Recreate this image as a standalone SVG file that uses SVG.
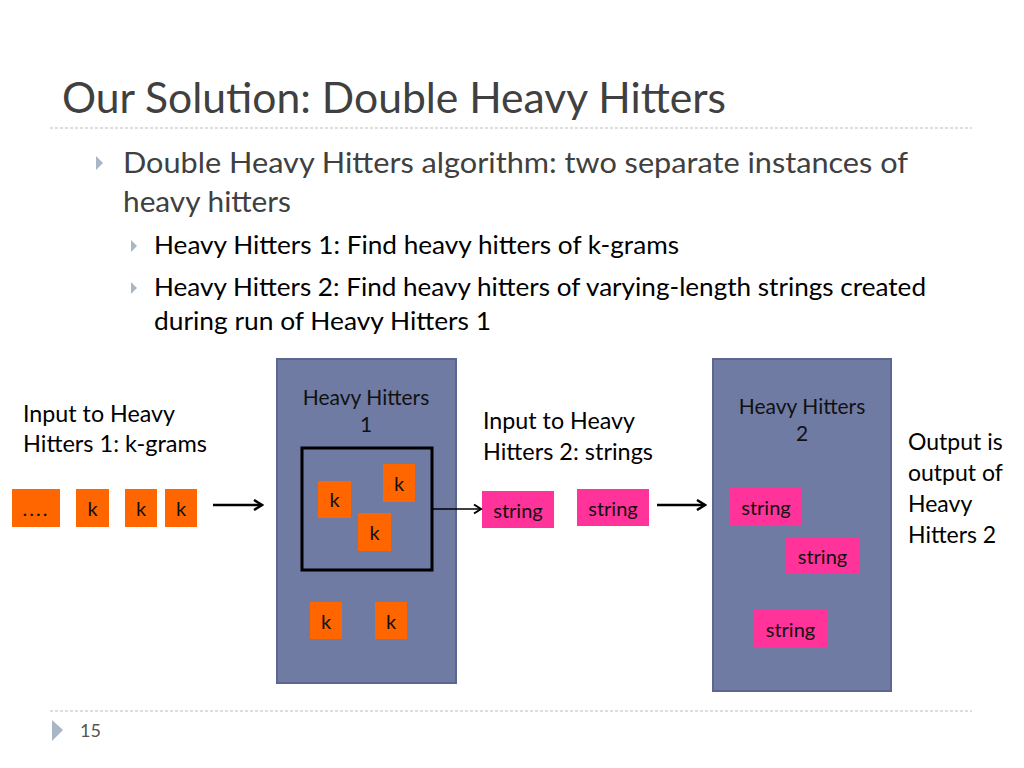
<svg xmlns="http://www.w3.org/2000/svg" width="1024" height="768" viewBox="0 0 1024 768">
<style>
text{font-family:Lato,"Liberation Sans",sans-serif;}
.title{font-size:42px;fill:#404040;}
.b1{font-size:29px;fill:#404040;}
.b2{font-size:25px;fill:#000;}
.lbl{font-size:23px;fill:#000;}
.ptitle{font-size:21px;fill:#111;text-anchor:middle;}
.tok{font-size:20px;fill:#111;text-anchor:middle;}
.k{fill:#ff6600;}
.s{fill:#ff3399;}
.panel{fill:#6f7ba3;stroke:#5c6690;stroke-width:2;}
.dash{stroke:#bdbdbd;stroke-width:1;stroke-dasharray:3 2;fill:none;}
.bul{fill:#a9b6c6;}
.conn{stroke:#000;fill:none;}
</style>
<defs>
<marker id="chev" markerWidth="12" markerHeight="12" refX="10" refY="6" orient="auto" markerUnits="userSpaceOnUse">
<path d="M2,1 L10,6 L2,11" fill="none" stroke="#000" stroke-width="2.5"/>
</marker>
<marker id="chev2" markerWidth="12" markerHeight="12" refX="10" refY="6" orient="auto" markerUnits="userSpaceOnUse">
<path d="M3,1.5 L10,6 L3,10.5" fill="none" stroke="#000" stroke-width="2"/>
</marker>
</defs>
<rect width="1024" height="768" fill="#fff"/>

<g id="header">
<text class="title" x="62" y="113" textLength="664" lengthAdjust="spacingAndGlyphs">Our Solution: Double Heavy Hitters</text>
<line class="dash" x1="50" y1="128" x2="972" y2="128"/>
</g>

<g id="bullets">
<polygon class="bul" points="96,156 103,163 96,170"/>
<text class="b1" x="123" y="173" textLength="785" lengthAdjust="spacingAndGlyphs">Double Heavy Hitters algorithm:  two separate instances of</text>
<text class="b1" x="123" y="212" textLength="168" lengthAdjust="spacingAndGlyphs">heavy hitters</text>
<polygon class="bul" points="131,240 137,246 131,252"/>
<text class="b2" x="154" y="254" textLength="525" lengthAdjust="spacingAndGlyphs">Heavy Hitters 1: Find heavy hitters of k-grams</text>
<polygon class="bul" points="131,282 137,288 131,294"/>
<text class="b2" x="154" y="296" textLength="772" lengthAdjust="spacingAndGlyphs">Heavy Hitters 2: Find heavy hitters of varying-length strings created</text>
<text class="b2" x="154" y="330" textLength="337" lengthAdjust="spacingAndGlyphs">during run of Heavy Hitters 1</text>
</g>

<g id="input1-label">
<text class="lbl" x="23" y="422" textLength="152" lengthAdjust="spacingAndGlyphs">Input to Heavy</text>
<text class="lbl" x="23" y="452" textLength="184" lengthAdjust="spacingAndGlyphs">Hitters 1: k-grams</text>
</g>

<g id="input1">
<rect class="k" x="12" y="489" width="48" height="38"/>
<text class="tok" x="36" y="516" letter-spacing="2">....</text>
<rect class="k" x="76" y="489" width="33" height="38"/>
<text class="tok" x="92.5" y="516">k</text>
<rect class="k" x="125" y="489" width="32" height="38"/>
<text class="tok" x="141" y="516">k</text>
<rect class="k" x="165" y="489" width="32" height="38"/>
<text class="tok" x="181" y="516">k</text>
</g>

<g id="hh1">
<rect class="panel" x="277" y="359" width="179" height="324"/>
<text class="ptitle" x="366" y="405">Heavy Hitters</text>
<text class="ptitle" x="366" y="432">1</text>
<rect x="302" y="448" width="130" height="122" fill="none" stroke="#000" stroke-width="3"/>
<rect class="k" x="318" y="481" width="33" height="37"/>
<text class="tok" x="334.5" y="507">k</text>
<rect class="k" x="383" y="464" width="32" height="38"/>
<text class="tok" x="399" y="491">k</text>
<rect class="k" x="358" y="513" width="33" height="38"/>
<text class="tok" x="374.5" y="540">k</text>
<rect class="k" x="310" y="602" width="32" height="37"/>
<text class="tok" x="326" y="629">k</text>
<rect class="k" x="375" y="602" width="32" height="37"/>
<text class="tok" x="391" y="629">k</text>
</g>

<g id="input2-label">
<text class="lbl" x="483" y="429" textLength="152" lengthAdjust="spacingAndGlyphs">Input to Heavy</text>
<text class="lbl" x="483" y="460" textLength="170" lengthAdjust="spacingAndGlyphs">Hitters 2: strings</text>
</g>

<g id="input2">
<rect class="s" x="482" y="491" width="72" height="37"/>
<text class="tok" x="518" y="518">string</text>
<rect class="s" x="577" y="489" width="72" height="37"/>
<text class="tok" x="613" y="516">string</text>
</g>

<g id="hh2">
<rect class="panel" x="713" y="359" width="178" height="332"/>
<text class="ptitle" x="802" y="414">Heavy Hitters</text>
<text class="ptitle" x="802" y="441">2</text>
<rect class="s" x="730" y="488" width="72" height="38"/>
<text class="tok" x="766" y="515">string</text>
<rect class="s" x="786" y="537" width="73" height="37"/>
<text class="tok" x="822.5" y="564">string</text>
<rect class="s" x="754" y="610" width="73" height="37"/>
<text class="tok" x="790.5" y="637">string</text>
</g>

<g id="output-label">
<text class="lbl" x="908" y="450">Output is</text>
<text class="lbl" x="908" y="481">output of</text>
<text class="lbl" x="908" y="512">Heavy</text>
<text class="lbl" x="908" y="543">Hitters 2</text>
</g>

<g id="connectors">
<line class="conn" x1="213" y1="505" x2="262" y2="505" stroke-width="2.5" marker-end="url(#chev)"/>
<line class="conn" x1="432" y1="509" x2="481" y2="509" stroke-width="1.5" marker-end="url(#chev2)"/>
<line class="conn" x1="657" y1="505" x2="705" y2="505" stroke-width="2.5" marker-end="url(#chev)"/>
</g>

<g id="footer">
<line class="dash" x1="50" y1="711" x2="972" y2="711"/>
<polygon class="bul" points="52,720 63,730 52,741"/>
<text x="80" y="737" font-family="'Liberation Sans Narrow','Liberation Sans',sans-serif" font-size="18" fill="#555">15</text>
</g>
</svg>
